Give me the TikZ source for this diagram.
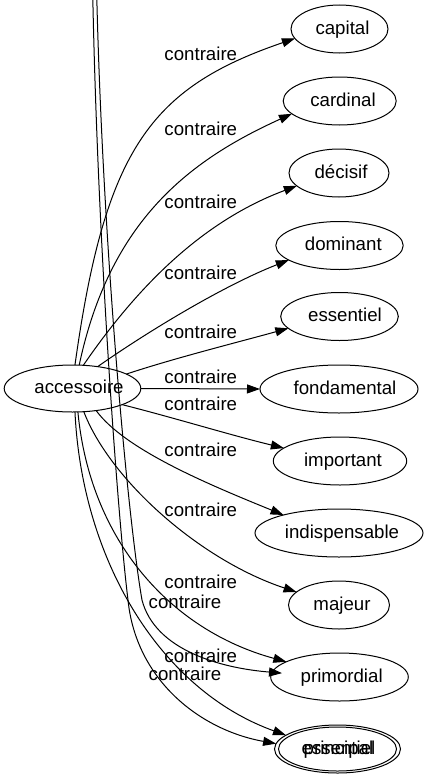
\documentclass[tikz,border=0pt]{standalone}
\usepackage{fontspec}
\setmainfont{Liberation Sans}
\usetikzlibrary{arrows.meta,shapes.geometric}
\newcommand\shifted[2]{\makebox[0pt][c]{\hspace*{#1}#2}}
\begin{document}
\begin{tikzpicture}[x=1pt,y=-1pt,
  font=\fontsize{18.67}{22}\selectfont,
  gnode/.style={ellipse, draw, line width=1pt, inner sep=0pt, outer sep=0pt, minimum height=48pt, text height=13pt, text depth=3pt},
  elabel/.style={inner sep=0pt, text height=13pt, text depth=3pt},
  conn/.style={line width=1pt, -{Triangle[length=13pt,width=9pt]}},
]
\useasboundingbox (0,0) rectangle (430,779);

% nodes
\node[gnode, minimum width=136.6pt, minimum height=47pt] (acc) at (72.5,388.5) {\shifted{13pt}{accessoire}};
\node[gnode, minimum width=97pt] (capital) at (339.5,29) {\shifted{6pt}{capital}};
\node[gnode, minimum width=113pt] (cardinal) at (339.7,101) {\shifted{6.6pt}{cardinal}};
\node[gnode, minimum width=100pt] (decisif) at (339,173) {\shifted{4pt}{décisif}};
\node[gnode, minimum width=127.4pt] (dominant) at (339.5,245.5) {\shifted{7.6pt}{dominant}};
\node[gnode, minimum width=117.6pt] (essentiel) at (339.5,316.5) {\shifted{11pt}{essentiel}};
\node[gnode, minimum width=158pt] (fondamental) at (339,389) {\shifted{12pt}{fondamental}};
\node[gnode, minimum width=133.4pt] (important) at (340,461) {\shifted{6pt}{important}};
\node[gnode, minimum width=168pt] (indisp) at (339,533) {\shifted{6pt}{indispensable}};
\node[gnode, minimum width=101pt] (majeur) at (339,605) {\shifted{6pt}{majeur}};
\node[gnode, minimum width=137.6pt] (primordial) at (339.5,677) {\shifted{4.4pt}{primordial}};
\node[gnode, minimum width=126pt] (principal) at (337.5,749) {\shifted{2pt}{principal}};
\node[gnode, minimum width=118pt, minimum height=44pt] (essentielb) at (337.5,749) {\shifted{2pt}{essentiel}};

% free ends of the two edges coming from above the picture
\coordinate (topB) at (92.8,-2);
\coordinate (topC) at (96.8,-2);

% edges
\draw[conn] (acc.84) .. controls (105,150) and (150,88) .. (capital.192.7);
\draw[conn] (acc.74.4) .. controls (110,220) and (190,160) .. (cardinal.195.7);
\draw[conn] (acc.65.6) .. controls (135,290) and (200,222) .. (decisif.197);
\draw[conn] (acc.41.8) .. controls (150,330) and (225,285) .. (dominant.196.3);
\draw[conn] (acc.15.9) .. controls (175,358) and (235,343) .. (essentiel.193.6);
\draw[conn] (acc.0) -- (fondamental.180);
\draw[conn] (acc.342.7) .. controls (175,418) and (230,435) .. (important.167.7);
\draw[conn] (acc.317) .. controls (125,450) and (210,485) .. (indisp.162.3);
\draw[conn] (acc.296.4) .. controls (110,480) and (200,560) .. (majeur.163.9);
\draw[conn] (acc.283.3) .. controls (90,540) and (170,630) .. (primordial.164.2);
\draw[conn] (acc.276) .. controls (82,560) and (160,690) .. (principal.165.8);
\draw[conn, shorten >=-10pt] (topC) .. controls (103,250) and (128,520) .. (142,600) .. controls (155,650) and (220,668) .. (primordial.176);
\draw[conn] (topB) .. controls (98,250) and (118,520) .. (128,600) .. controls (136,680) and (200,730) .. (principal.175.5);

% edge labels
\node[elabel] (l1) at (200.8,55) {contraire};
\node[elabel] (l2) at (200.8,130) {contraire};
\node[elabel] (l3) at (200.8,203) {contraire};
\node[elabel] (l4) at (200.8,274) {contraire};
\node[elabel] (l5) at (200.8,333.3) {contraire};
\node[elabel] (l6) at (200.8,378) {contraire};
\node[elabel] (l7) at (200.8,405.7) {contraire};
\node[elabel] (l8) at (200.8,451.7) {contraire};
\node[elabel] (l9) at (200.8,511.7) {contraire};
\node[elabel] (l10) at (200.8,583) {contraire};
\node[elabel] (l11) at (185,603) {contraire};
\node[elabel] (l12) at (200.8,657) {contraire};
\node[elabel] (l13) at (185,675) {contraire};
\end{tikzpicture}
\end{document}
